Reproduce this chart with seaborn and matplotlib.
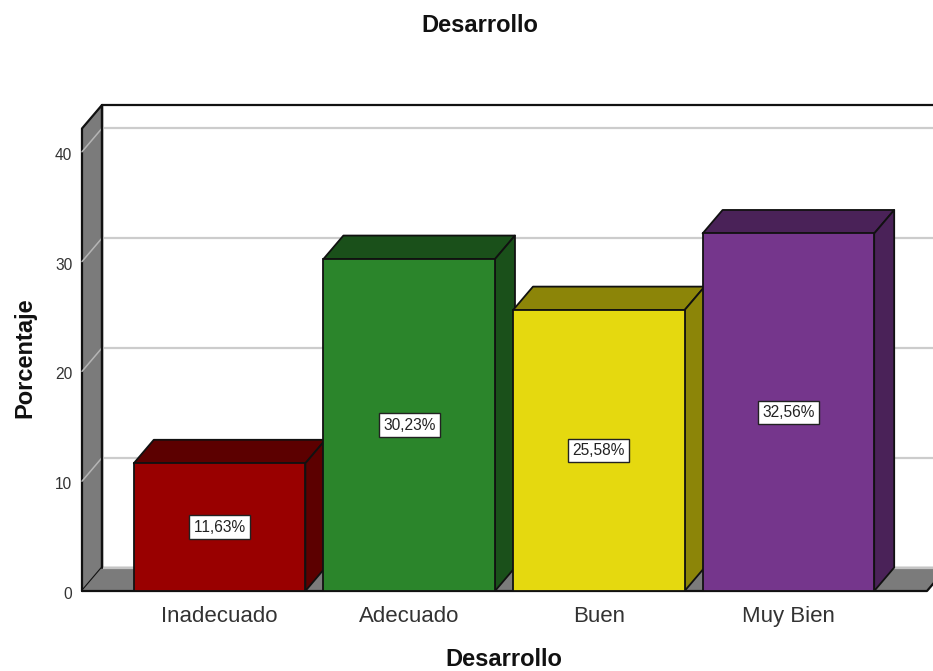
"""Desarrollo: SPSS style 3D bar chart, percentages per category."""
import matplotlib
matplotlib.use("Agg")
import matplotlib.pyplot as plt
import pandas as pd
import seaborn as sns
from matplotlib.patches import Polygon
from matplotlib.transforms import ScaledTranslation

categories = ["Inadecuado", "Adecuado", "Buen", "Muy Bien"]
percentages = [11.63, 30.23, 25.58, 32.56]
y_ticks = [0, 10, 20, 30, 40]

front_colors = ["#990000", "#2b852b", "#e5d90f", "#75368c"]
dark_colors = ["#5c0000", "#1a501a", "#8c8508", "#4a2258"]
WALL = "#7b7b7b"
GRID = "#cccccc"
EDGE = "#111111"

# depth of the fake 3D box, in pixels
DEPTH_X, DEPTH_Y = 20, 23.5
W, H = 933, 671

sns.set_theme(style="white")
plt.rcParams["font.family"] = ["Liberation Sans", "DejaVu Sans"]
plt.rcParams["text.kerning_factor"] = 6

df = pd.DataFrame({"cat": categories, "pct": percentages})

fig = plt.figure(figsize=(W / 100, H / 100), dpi=100)
ax = fig.add_axes([82 / W, 1 - 591 / H, 845 / W, 462.5 / H])
sns.barplot(data=df, x="cat", y="pct", hue="cat", order=categories, hue_order=categories,
            palette=front_colors, saturation=1, width=0.905, legend=False, ax=ax)
ax.set_xlim(-0.7256, 3.731)
ax.set_ylim(0, 42.12)
ax.set_yticks(y_ticks)

# pixel depth expressed in data units
dx = DEPTH_X * (ax.get_xlim()[1] - ax.get_xlim()[0]) / 845
dy = DEPTH_Y * (ax.get_ylim()[1] - ax.get_ylim()[0]) / 462.5
x0, x1 = ax.get_xlim()
top = ax.get_ylim()[1]


def face(points, color, z, edge=EDGE, lw=1.3):
    ax.add_patch(Polygon(points, closed=True, facecolor=color, edgecolor=edge, lw=lw,
                         clip_on=False, zorder=z, joinstyle="round"))


# walls: back, left side, floor
face([(x0 + dx, dy), (x1 + dx, dy), (x1 + dx, top + dy), (x0 + dx, top + dy)], "white", 0.2, lw=1.6)
face([(x0, 0), (x0 + dx, dy), (x0 + dx, top + dy), (x0, top)], WALL, 0.3, lw=1.6)
face([(x0, 0), (x0 + dx, dy), (x1 + dx, dy), (x1, 0)], WALL, 0.3, edge="none", lw=0)
ax.plot([x0, x1, x1 + dx], [0, 0, dy], color=EDGE, lw=1.6, clip_on=False, zorder=0.4)
ax.plot([x0 + dx, x1 + dx], [dy, dy], color="#c4c4c4", lw=1.6, clip_on=False, zorder=0.4)
ax.plot([x0 + dx, x0 + dx], [dy, top + dy], color=EDGE, lw=1.6, clip_on=False, zorder=0.45)

# gridlines on the back wall, continued slanted over the side wall
for t in y_ticks[1:]:
    ax.plot([x0 + dx, x1 + dx], [t + dy, t + dy], color=GRID, lw=1.6, clip_on=False, zorder=0.35)
    ax.plot([x0, x0 + dx], [t, t + dy], color="#b5b5b5", lw=1.1, clip_on=False, zorder=0.36)

# each bar: top and side faces behind its front, next bar overlaps the previous one
for i, (bar, dark, val) in enumerate(zip(ax.patches, dark_colors, percentages)):
    left, w, h = bar.get_x(), bar.get_width(), bar.get_height()
    right = left + w
    z = 2 + i
    face([(left, h), (left + dx, h + dy), (right + dx, h + dy), (right, h)], dark, z)
    face([(right, 0), (right + dx, dy), (right + dx, h + dy), (right, h)], dark, z)
    bar.set(edgecolor=EDGE, linewidth=1.3, zorder=z + 0.5)
    ax.text(left + w / 2, h / 2, f"{val:.2f}%".replace(".", ","), ha="center", va="center",
            fontsize=11.2, color="#222222", zorder=20,
            bbox=dict(boxstyle="square,pad=0.27", facecolor="white", edgecolor="#222222", lw=1))

sns.despine(ax=ax, top=True, right=True, left=True, bottom=True)
ax.tick_params(axis="x", length=0, pad=11, labelsize=16, labelcolor="#333333")
ax.tick_params(axis="y", length=0, pad=7, labelsize=11.2, labelcolor="#333333")
# y tick labels sit a little below their level in the reference
for label in ax.get_yticklabels():
    label.set_transform(label.get_transform() + ScaledTranslation(0, -2 / 100, fig.dpi_scale_trans))
ax.set_xlabel("Desarrollo", fontsize=17, fontweight="bold", color="#111111")
ax.set_ylabel("Porcentaje", fontsize=17, fontweight="bold", color="#111111")
ax.xaxis.set_label_coords(0.4994, -69 / 462.5)
ax.yaxis.set_label_coords(-57 / 845, 0.504)
ax.xaxis.label.set_va("center")
ax.yaxis.label.set_va("center")
fig.suptitle("Desarrollo", x=480 / W, y=1 - 25 / H, va="center", fontsize=17,
             fontweight="bold", color="#111111")

fig.savefig("out.png", dpi=100, facecolor="white")
